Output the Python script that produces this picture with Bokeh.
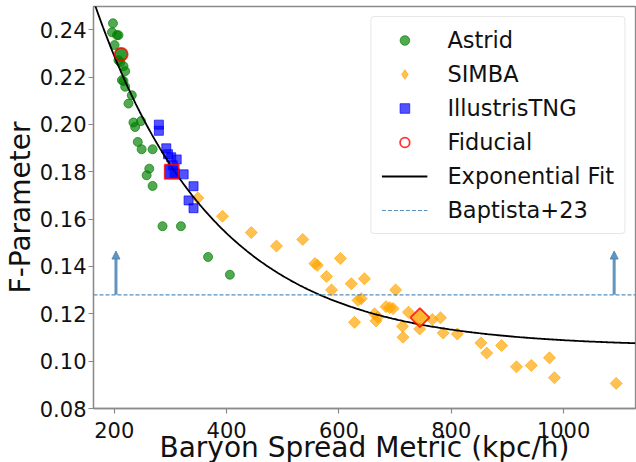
import numpy as np
from bokeh.plotting import figure
from bokeh.models import (ColumnDataSource, Range1d, FixedTicker, PrintfTickFormatter,
                          Legend, LegendItem, Arrow, NormalHead)
from bokeh.embed import file_html
from bokeh.resources import INLINE

# ---------------- data ----------------
astrid_x = [197.7, 195.9, 204.8, 207.5, 200.5, 207.5, 210.6, 216.4, 219.4, 213.6, 216.4,
            219.4, 231.2, 225.3, 234.1, 237.1, 247.6, 241.8, 248.7, 268.2, 262.3, 257.6,
            268.2, 285.9, 318.7, 367.0, 405.8]
astrid_y = [0.2427, 0.2389, 0.2377, 0.2377, 0.2335, 0.2271, 0.2263, 0.2246, 0.2225, 0.2187, 0.2183,
            0.2159, 0.2123, 0.2088, 0.2008, 0.1989, 0.2014, 0.1926, 0.1895, 0.1895, 0.1813, 0.1785,
            0.1740, 0.1570, 0.1570, 0.1440, 0.1365]

simba_x = [348.7, 392.7, 443.9, 488.8, 535.6, 557.2, 561.5, 577.9, 602.6, 586.8, 622.0,
           645.4, 633.9, 639.7, 700.9, 627.7, 663.3, 669.1, 666.1, 683.8, 690.3, 696.4,
           723.8, 713.2, 714.1, 743.7, 766.2, 780.8, 785.6, 810.8, 852.9, 863.1, 889.6,
           916.1, 942.5, 974.8, 983.7, 1093.6]
simba_y = [0.1689, 0.1612, 0.1543, 0.1486, 0.1514, 0.1412, 0.1405, 0.1358, 0.1434, 0.1301, 0.1327,
           0.1348, 0.1257, 0.1264, 0.1301, 0.1164, 0.1200, 0.1186, 0.1170, 0.1230, 0.1226, 0.1222,
           0.1207, 0.1147, 0.1101, 0.1136, 0.1176, 0.1183, 0.1119, 0.1115, 0.1077, 0.1034, 0.1066,
           0.0976, 0.0982, 0.1014, 0.0930, 0.0906]

tng_x = [279.4, 279.4, 292.6, 295.7, 301.4, 311.1, 304.0, 307.6, 323.5, 341.1, 332.3, 341.1]
tng_y = [0.1999, 0.1973, 0.1899, 0.1874, 0.1861, 0.1852, 0.1827, 0.1794, 0.1789, 0.1739, 0.1679, 0.1646]

# fiducial runs: Astrid, IllustrisTNG, SIMBA
fid_x = [212.3, 302.3, 744.1]
fid_y = [0.2296, 0.1800, 0.1184]

# exponential fit  F = a * exp(-b * x) + c
fit_a, fit_b, fit_c = 0.3146, 0.0047, 0.106

baptista_f = 0.128
arrow_x = [203.0, 1090.0]
arrow_top = 0.1465

x_ticks = [200, 400, 600, 800, 1000]
y_ticks = [0.08, 0.10, 0.12, 0.14, 0.16, 0.18, 0.20, 0.22, 0.24]
X_RANGE = (163.0, 1128.0)
Y_RANGE = (0.08, 0.2498)

# ---------------- figure ----------------
W, H = 636, 468
FONT = "DejaVu Sans"

p = figure(width=W, height=H, x_range=Range1d(*X_RANGE), y_range=Range1d(*Y_RANGE),
           output_backend="svg", toolbar_location=None,
           min_border_left=88, min_border_right=1, min_border_top=6, min_border_bottom=60,
           x_axis_label="Baryon Spread Metric (kpc/h)", y_axis_label="F-Parameter")
p.xgrid.visible = False
p.ygrid.visible = False
p.outline_line_color = "#8a8a8a"
p.outline_line_width = 1.3

for ax in (p.xaxis[0], p.yaxis[0]):
    ax.axis_line_color = "#8a8a8a"
    ax.axis_line_width = 1.3
    ax.major_tick_line_color = "#8a8a8a"
    ax.major_tick_line_width = 1.2
    ax.major_tick_out = 5
    ax.major_tick_in = 0
    ax.minor_tick_line_color = None
    ax.major_label_text_font = FONT
    ax.major_label_text_font_size = "21px"
    ax.major_label_text_color = "#111111"
    ax.axis_label_text_font = FONT
    ax.axis_label_text_font_size = "28px"
    ax.axis_label_text_font_style = "normal"
    ax.axis_label_text_color = "#111111"
p.xaxis.ticker = FixedTicker(ticks=x_ticks)
p.yaxis.ticker = FixedTicker(ticks=y_ticks)
p.yaxis.formatter = PrintfTickFormatter(format="%.2f")
p.xaxis.major_label_standoff = 8
p.yaxis.major_label_standoff = 2
p.xaxis.axis_label_standoff = -10
p.yaxis.axis_label_standoff = 0

GREEN = "green"
ORANGE = "orange"
BLUE = "blue"
STEEL = "steelblue"

r_astrid = p.scatter(astrid_x, astrid_y, marker="circle", size=9, fill_color=GREEN, line_color=GREEN,
                     fill_alpha=0.68, line_alpha=0.68)
r_simba = p.scatter(simba_x, simba_y, marker="square", angle=np.pi / 4, size=8.5, fill_color=ORANGE,
                    line_color=ORANGE, fill_alpha=0.68, line_alpha=0.68)
# legend-only glyph (legend does not rotate markers)
r_simba_leg = p.scatter(simba_x[:1], simba_y[:1], marker="diamond", size=13, fill_color=ORANGE,
                        line_color=ORANGE, fill_alpha=0.68, line_alpha=0.68, visible=False)
r_tng = p.scatter(tng_x, tng_y, marker="square", size=9, fill_color=BLUE, line_color=BLUE,
                  fill_alpha=0.68, line_alpha=0.68)

# fit curve
fit_xs = np.linspace(X_RANGE[0], X_RANGE[1], 400)
fit_ys = fit_a * np.exp(-fit_b * fit_xs) + fit_c
r_fit = p.line(fit_xs, fit_ys, line_color="black", line_width=1.8)

# Baptista+23 line and arrows
r_bap = p.line([X_RANGE[0], X_RANGE[1]], [baptista_f, baptista_f], line_color=STEEL, line_alpha=0.9,
               line_width=1.2, line_dash="4 2")
arrow_src = ColumnDataSource(dict(x0=arrow_x, y0=[baptista_f] * len(arrow_x),
                                  x1=arrow_x, y1=[arrow_top] * len(arrow_x)))
p.add_layout(Arrow(end=NormalHead(size=8, fill_color=STEEL, line_color=STEEL, fill_alpha=0.85, line_alpha=0.85),
                   x_start="x0", y_start="y0", x_end="x1", y_end="y1", source=arrow_src,
                   line_color=STEEL, line_alpha=0.85, line_width=3))

# fiducial markers
p.scatter(fid_x[:1], fid_y[:1], marker="circle", size=13, fill_color=GREEN, fill_alpha=0.8,
          line_color=None)
r_fid = p.scatter(fid_x[:1], fid_y[:1], marker="circle", size=13, fill_color=None, line_color="red",
                  line_alpha=0.8, line_width=1.8)
p.scatter(fid_x[1:2], fid_y[1:2], marker="square", size=14, fill_color=BLUE, fill_alpha=0.8,
          line_color="red", line_alpha=0.8, line_width=1.8)
p.scatter(fid_x[2:], fid_y[2:], marker="square", angle=np.pi / 4, size=13.5, fill_color=ORANGE,
          fill_alpha=0.8, line_color="red", line_alpha=0.8, line_width=1.8)

legend = Legend(items=[
    LegendItem(label="Astrid", renderers=[r_astrid]),
    LegendItem(label="SIMBA", renderers=[r_simba_leg]),
    LegendItem(label="IllustrisTNG", renderers=[r_tng]),
    LegendItem(label="Fiducial", renderers=[r_fid]),
    LegendItem(label="Exponential Fit", renderers=[r_fit]),
    LegendItem(label="Baptista+23", renderers=[r_bap]),
], location="top_right", margin=10, padding=10, spacing=8, glyph_width=46, glyph_height=24,
    label_height=24, label_standoff=20, label_text_font=FONT, label_text_font_size="22.5px",
    label_text_color="#111111", border_line_color="#d0d0d0", border_line_width=1,
    background_fill_alpha=0.85, border_radius=4)
p.add_layout(legend)

open("out.html", "w").write(file_html(p, INLINE))
